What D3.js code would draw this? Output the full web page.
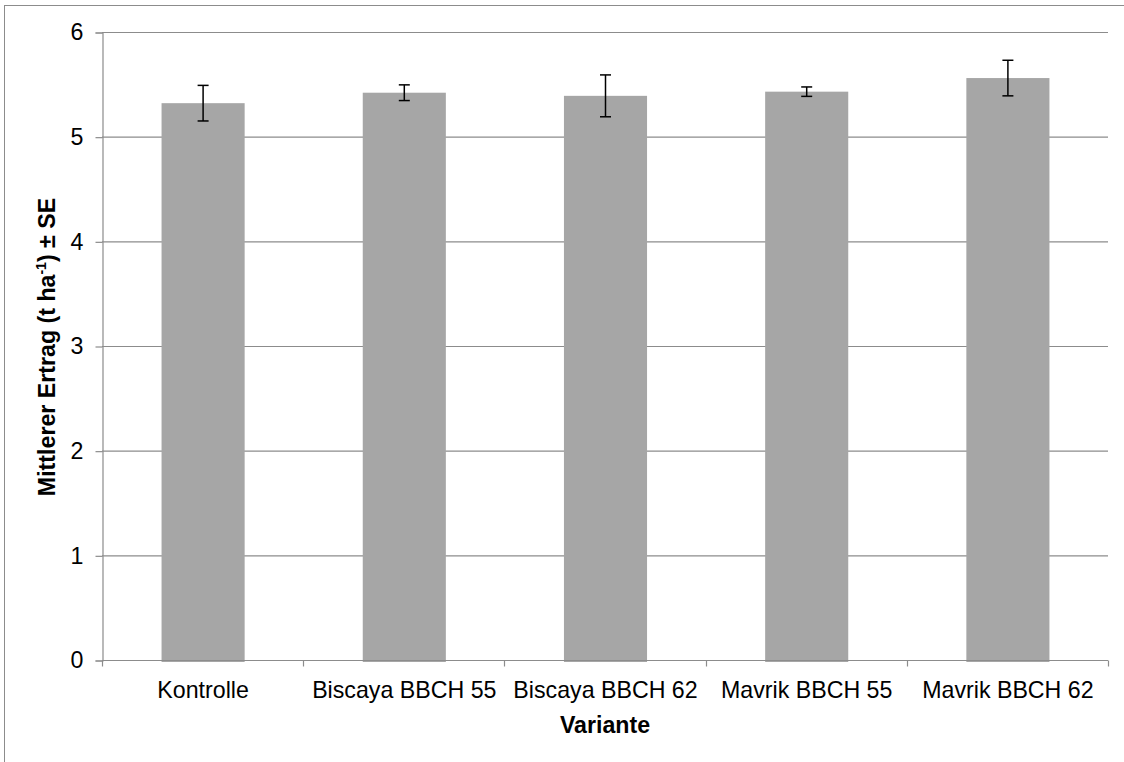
<!DOCTYPE html>
<html>
<head>
<meta charset="utf-8">
<script src="https://cdn.jsdelivr.net/npm/d3@7"></script>
<style>
  html, body { margin: 0; padding: 0; background: #fff; }
  text { font-family: "Liberation Sans", Arial, sans-serif; }
</style>
</head>
<body>
<svg id="chart" width="1124" height="762"></svg>
<script>
const categories = ["Kontrolle", "Biscaya BBCH 55", "Biscaya BBCH 62", "Mavrik BBCH 55", "Mavrik BBCH 62"];
const means = [5.32, 5.42, 5.39, 5.43, 5.56];
const se = [0.17, 0.075, 0.20, 0.045, 0.17];
const yTicks = [0, 1, 2, 3, 4, 5, 6];

const svg = d3.select("#chart");
const m = { left: 102, right: 1108, top: 32, bottom: 660 };
const fs = 23.2;

svg.append("rect").attr("x", 4.5).attr("y", 5.5).attr("width", 1130).attr("height", 770)
  .attr("fill", "none").attr("stroke", "#8c8c8c").attr("stroke-width", 1);

const x = d3.scaleBand().domain(categories).range([m.left, m.right]).paddingInner(0).paddingOuter(0);
const y = d3.scaleLinear().domain([0, 6]).range([m.bottom, m.top]);
const gridColor = "#8c8c8c";

// gridlines
svg.append("g").selectAll("line").data(yTicks.filter(d => d > 0)).join("line")
  .attr("x1", m.left).attr("x2", m.right)
  .attr("y1", d => y(d) + 0.5).attr("y2", d => y(d) + 0.5)
  .attr("stroke", gridColor).attr("stroke-width", 1.2);

// y axis
const yAxis = svg.append("g").attr("transform", `translate(${m.left + 0.5},0.5)`)
  .call(d3.axisLeft(y).tickValues(yTicks).tickSize(7).tickPadding(12).tickFormat(d3.format("d")));
yAxis.select(".domain").attr("stroke", gridColor).attr("stroke-width", 1.2);
yAxis.selectAll(".tick line").attr("stroke", gridColor).attr("stroke-width", 1.2);
yAxis.selectAll(".tick text").attr("font-size", fs).attr("fill", "#000")
  .attr("font-family", "'Liberation Sans', Arial, sans-serif");

// bars
const barW = x.bandwidth() * 0.413;
svg.append("g").selectAll("rect").data(categories).join("rect")
  .attr("x", d => x(d) + x.bandwidth() / 2 - barW / 2 + 0.5)
  .attr("y", (d, i) => y(means[i]))
  .attr("width", barW)
  .attr("height", (d, i) => y(0) - y(means[i]) + 2)
  .attr("fill", "#a6a6a6");

// x axis
const xAxisG = svg.append("g").attr("transform", `translate(0,${m.bottom + 0.5})`);
xAxisG.append("line").attr("x1", m.left).attr("x2", m.right).attr("y1", 0).attr("y2", 0)
  .attr("stroke", gridColor).attr("stroke-width", 1.2);
const bounds = categories.map(c => x(c)).concat([m.right]);
xAxisG.selectAll("line.tk").data(bounds).join("line").attr("class", "tk")
  .attr("x1", d => Math.round(d) + 0.5).attr("x2", d => Math.round(d) + 0.5)
  .attr("y1", 0).attr("y2", 6).attr("stroke", gridColor).attr("stroke-width", 1.2);
xAxisG.selectAll("text").data(categories).join("text")
  .attr("x", d => x(d) + x.bandwidth() / 2 + 0.5)
  .attr("y", 37.5)
  .attr("text-anchor", "middle").attr("font-size", fs).attr("fill", "#000")
  .text(d => d);

// error bars
const eb = svg.append("g").attr("stroke", "#000").attr("stroke-width", 1.5);
categories.forEach((c, i) => {
  const cx = x(c) + x.bandwidth() / 2 + 0.5;
  const y1 = y(means[i] + se[i]), y2 = y(means[i] - se[i]);
  eb.append("line").attr("x1", cx).attr("x2", cx).attr("y1", y1).attr("y2", y2);
  eb.append("line").attr("x1", cx - 5.5).attr("x2", cx + 5.5).attr("y1", y1).attr("y2", y1);
  eb.append("line").attr("x1", cx - 5.5).attr("x2", cx + 5.5).attr("y1", y2).attr("y2", y2);
});

// axis titles
svg.append("text").attr("x", (m.left + m.right) / 2).attr("y", 733)
  .attr("text-anchor", "middle").attr("font-size", fs).attr("font-weight", "bold").attr("fill", "#000")
  .text("Variante");

const yt = svg.append("text").attr("transform", `translate(55,347) rotate(-90)`)
  .attr("text-anchor", "middle").attr("font-size", fs).attr("font-weight", "bold").attr("fill", "#000");
yt.append("tspan").text("Mittlerer Ertrag (t ha");
yt.append("tspan").attr("font-size", 14).attr("dy", -9).text("-1");
yt.append("tspan").attr("dy", 9).text(") ± SE");
</script>
</body>
</html>
